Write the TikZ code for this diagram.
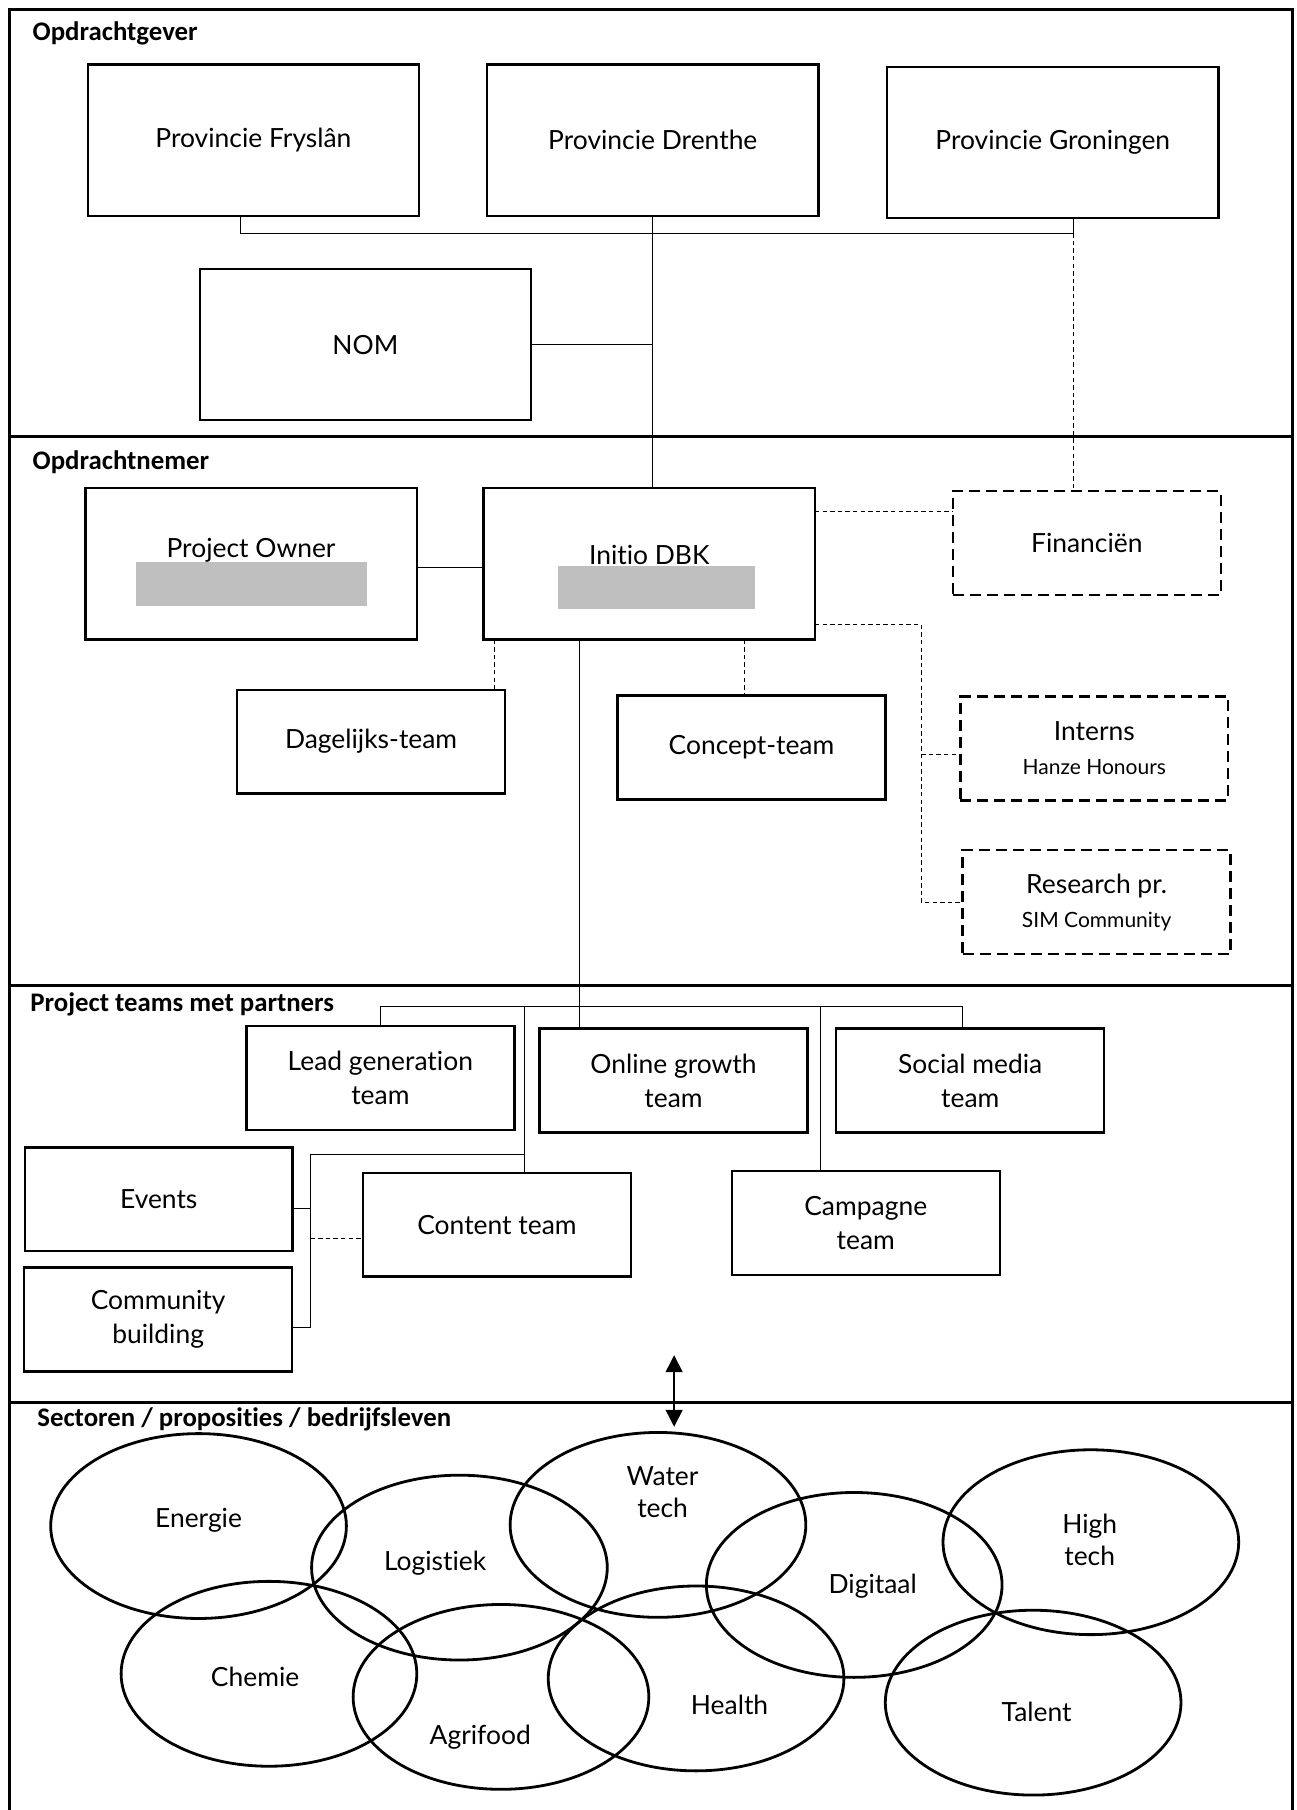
\documentclass[tikz,border=0pt]{standalone}
\usepackage{fontspec}
\setmainfont{Lato}[Ligatures=NoCommon]
\newfontfamily\headFont{Carlito}[Ligatures=NoCommon]
\usetikzlibrary{arrows.meta}
\newcommand{\sectorBlob}[6]{%%
  %% The ring of the sector.
  \draw[sectorStyle] (#1,#2) ellipse [x radius=73.9pt, y radius=46.2pt];
  %% The name of the sector.
  \node[labelStyle] (#5) at (#3,#4) {#6};
}
\newcommand{\redactBar}[4]{%%
  \fill[redactStyle] (#1,#2) rectangle (#3,#4);
}

\begin{document}
\begin{tikzpicture}[%%
  x=0.577pt,y=-0.577pt,%%
  boxStyle/.style={draw,line width=1.2pt,minimum width=133.9pt,minimum height=51.9pt,inner sep=0pt,outer sep=0pt,align=center,font=\fontsize{13.2}{17}\selectfont},%%
  bigBoxStyle/.style={boxStyle,minimum width=165.6pt,minimum height=75.6pt},%%
  dashBoxStyle/.style={boxStyle,dash pattern=on 5.5pt off 3pt},%%
  lineStyle/.style={-,line width=0.5pt},%%
  dashLineStyle/.style={lineStyle,dash pattern=on 2.2pt off 1.6pt},%%
  frameStyle/.style={line width=1.4pt},%%
  titleStyle/.style={anchor=west,inner sep=0pt,font=\headFont\bfseries\fontsize{13.4}{16}\selectfont},%%
  labelStyle/.style={align=center,inner sep=0pt,font=\fontsize{13.2}{16}\selectfont},%%
  sectorStyle/.style={line width=1.4pt},%%
  redactStyle/.style={fill=black!25},%%
  arrowStyle/.style={line width=0.7pt,{Triangle[width=8.5pt,length=8.5pt]}-{Triangle[width=8.5pt,length=8.5pt]}}%%
]
\useasboundingbox (0,0) rectangle (1123,1568);
%%
%%
%% The frame and the four bands.
\draw[frameStyle] (8,1568) -- (8,8) -- (1120,8) -- (1120,1568);
\draw[frameStyle] (8,378) -- (1120,378);
\draw[frameStyle] (8,854) -- (1120,854);
\draw[frameStyle] (8,1215) -- (1120,1215);
\node[titleStyle] (titleGever) at (28,29) {Opdrachtgever};
\node[titleStyle] (titleNemer) at (28,400) {Opdrachtnemer};
\node[titleStyle] (titleTeams) at (26,870) {Project teams met partners};
\node[titleStyle] (titleSectors) at (32,1230) {Sectoren / proposities / bedrijfsleven};
%%
%%
%% The clients.
\node[bigBoxStyle] (fryslan) at (219.5,121.5) {Provincie Fryslân};
\node[bigBoxStyle] (drenthe) at (565.5,121.5) {Provincie Drenthe};
\node[bigBoxStyle] (groningen) at (912,123.5) {Provincie Groningen};
\node[bigBoxStyle] (nom) at (316.5,298.5) {NOM};
%%
%% The contractor.
\node[bigBoxStyle] (projectOwner) at (217.5,488.5) {};
\node[labelStyle] (projectOwnerText) at (217.5,477) {Project Owner};
\redactBar{118}{487}{318}{525}
\node[bigBoxStyle] (initio) at (562.5,488.5) {};
\node[labelStyle] (initioText) at (562.5,481) {Initio DBK};
\redactBar{483}{490}{654}{528}
\node[dashBoxStyle] (financien) at (941.5,470.5) {Financiën};
\node[dashBoxStyle] (interns) at (948,648.5) {Interns\\\fontsize{10.5}{15.6}\selectfont Hanze Honours};
\node[dashBoxStyle] (research) at (950,781.5) {Research pr.\\\fontsize{10.5}{15.6}\selectfont SIM Community};
\node[boxStyle] (dagelijks) at (321.5,642.5) {Dagelijks-team};
\node[boxStyle] (concept) at (651,647.5) {Concept-team};
%%
%% The project teams.
\node[boxStyle] (leadGen) at (329.5,934) {Lead generation\\team};
\node[boxStyle] (onlineGrowth) at (583.5,936) {Online growth\\team};
\node[boxStyle] (socialMedia) at (840.5,936) {Social media\\team};
\node[boxStyle] (contentTeam) at (430.5,1061) {Content team};
\node[boxStyle] (campagne) at (750,1059.5) {Campagne\\team};
\node[boxStyle] (events) at (137.5,1039) {Events};
\node[boxStyle] (community) at (137,1143) {Community\\building};
%%
%%
%% The lines between the clients.
\coordinate (busWest) at (208,202);
\coordinate (busEast) at (930,202);
\draw[lineStyle] (busWest |- fryslan.south) -- (busWest) -- (busEast) -- (busEast |- groningen.south);
\draw[lineStyle] (drenthe.south) -- (drenthe.south |- initio.north);
\draw[lineStyle] (nom.east) -- (nom.east -| drenthe.south);
\draw[dashLineStyle] (busEast) -- (busEast |- financien.north);
%%
%% The lines round the contractor.
\coordinate (ownerLink) at (390,492);
\draw[lineStyle] (ownerLink -| projectOwner.east) -- (ownerLink -| initio.west);
\coordinate (financeLink) at (760,443);
\draw[dashLineStyle] (financeLink -| initio.east) -- (financeLink -| financien.west);
\coordinate (extraBus) at (798,541);
\coordinate (internsLink) at (798,654);
\draw[dashLineStyle] (extraBus -| initio.east) -- (extraBus) |- (research.west);
\draw[dashLineStyle] (internsLink) -- (internsLink -| interns.west);
\coordinate (dailyLink) at (428,575);
\draw[dashLineStyle] (dailyLink |- initio.south) -- (dailyLink |- dagelijks.north);
\coordinate (conceptLink) at (645,578);
\draw[dashLineStyle] (conceptLink |- initio.south) -- (conceptLink |- concept.north);
\coordinate (teamTrunk) at (502,700);
\draw[lineStyle] (teamTrunk |- initio.south) -- (teamTrunk |- onlineGrowth.north);
%%
%% The lines between the project teams.
\coordinate (teamBusWest) at (330,872);
\coordinate (teamBusEast) at (834,872);
\draw[lineStyle] (teamBusWest |- leadGen.north) -- (teamBusWest) -- (teamBusEast) -- (teamBusEast |- socialMedia.north);
\coordinate (contentDrop) at (454,872);
\coordinate (campagneDrop) at (711,872);
\draw[lineStyle] (contentDrop) -- (contentDrop |- contentTeam.north);
\draw[lineStyle] (campagneDrop) -- (campagneDrop |- campagne.north);
\coordinate (sideBranch) at (454,1000);
\coordinate (sideRail) at (269,1000);
\coordinate (eventsLink) at (269,1047);
\coordinate (contentLink) at (269,1073);
\coordinate (communityLink) at (269,1150);
\draw[lineStyle] (sideBranch) -- (sideRail) -- (communityLink) -- (communityLink -| community.east);
\draw[lineStyle] (eventsLink) -- (eventsLink -| events.east);
\draw[dashLineStyle] (contentLink) -- (contentLink -| contentTeam.west);
%%
%% The link to the sectors.
\coordinate (arrowTop) at (584,1174);
\coordinate (arrowBottom) at (584,1236);
\draw[arrowStyle] (arrowTop) -- (arrowBottom);
%%
%%
%% The sectors.
\sectorBlob{172}{1322}{172}{1317}{energie}{Energie}
\sectorBlob{398}{1358}{377}{1354}{logistiek}{Logistiek}
\sectorBlob{570}{1321}{574}{1293}{waterTech}{Water\\tech}
\sectorBlob{740}{1373}{756}{1374}{digitaal}{Digitaal}
\sectorBlob{945}{1336}{944}{1334}{highTech}{High\\tech}
\sectorBlob{233}{1450}{221}{1453}{chemie}{Chemie}
\sectorBlob{434}{1470}{416}{1505}{agrifood}{Agrifood}
\sectorBlob{603}{1454}{632}{1477}{health}{Health}
\sectorBlob{895}{1475}{898}{1483}{talent}{Talent}
\end{tikzpicture}
\end{document}
